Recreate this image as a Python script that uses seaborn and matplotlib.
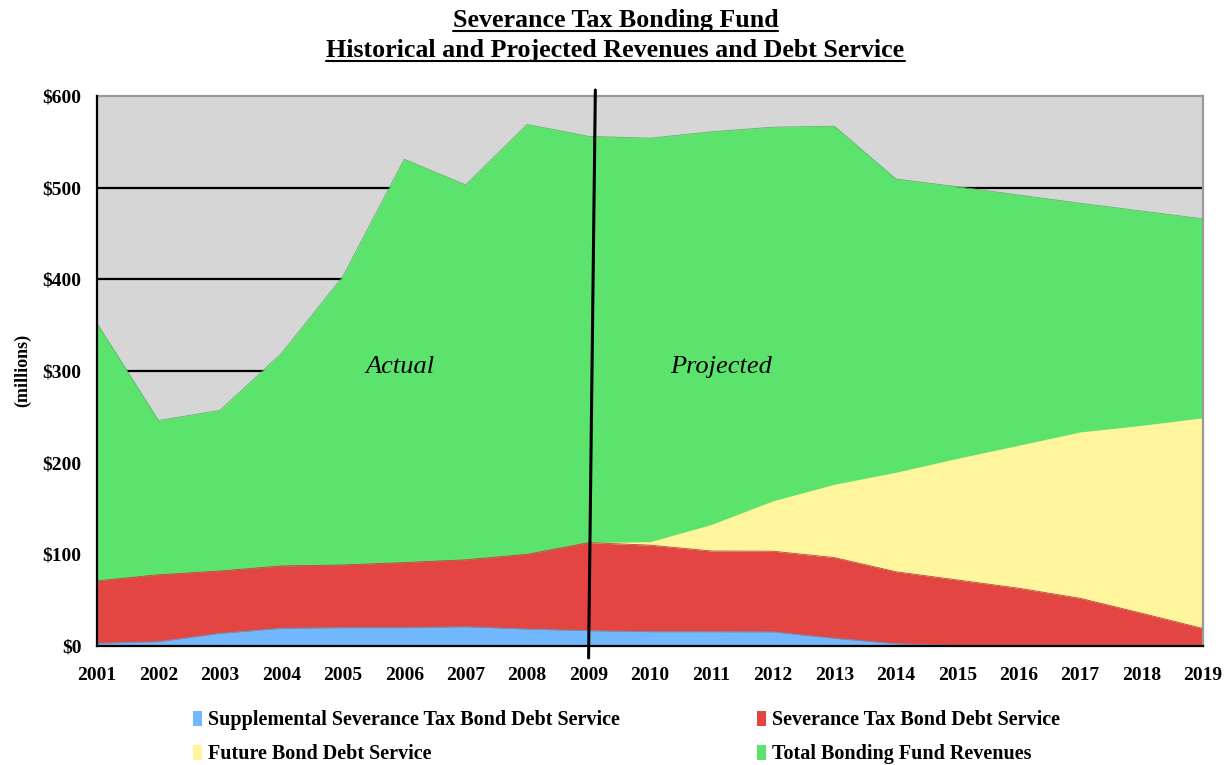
import pandas as pd
import matplotlib
matplotlib.use("Agg")
import matplotlib.pyplot as plt
import seaborn as sns
from matplotlib.patches import Patch
from matplotlib.lines import Line2D

# Severance Tax Bonding Fund, $ millions
years = list(range(2001, 2020))
supplemental = [3, 4.7, 13.8, 19.3, 20, 20, 21, 18.5, 16.7, 15.6, 15.6, 15.4, 8.4, 2.5, 0.5, 0, 0, 0, 0]
severance = [68, 73, 68, 68, 68.4, 71, 73, 81.5, 96, 94.4, 88, 88, 88, 78.5, 71.5, 63, 52, 35.7, 19]
future = [0, 0, 0, 0, 0, 0, 0, 0, 0, 3.8, 29, 55, 80, 108.5, 132.7, 156, 181.5, 205, 230]
revenues = [352, 246, 257, 319, 403, 531, 503, 569, 556, 554, 561, 566, 567, 509.5, 501, 492, 483, 474.5, 466]

labels = ["Supplemental Severance Tax Bond Debt Service", "Severance Tax Bond Debt Service",
          "Future Bond Debt Service", "Total Bonding Fund Revenues"]
y_ticks = [0, 100, 200, 300, 400, 500, 600]
split_year = 2009

blue, red, yellow, green = "#72B8FF", "#E34542", "#FFF59C", "#5CE36E"

df = pd.DataFrame({"year": years, "supplemental": supplemental, "severance": severance,
                   "future": future, "revenues": revenues})
df["top_blue"] = df["supplemental"]
df["top_red"] = df["top_blue"] + df["severance"]
df["top_yellow"] = df["top_red"] + df["future"]

sns.set_theme(style="white")
plt.rcParams["font.family"] = ["Liberation Serif", "DejaVu Serif"]
plt.rcParams["text.color"] = "black"
plt.rcParams["xtick.color"] = "black"
plt.rcParams["ytick.color"] = "black"
plt.rcParams["axes.labelcolor"] = "black"

fig = plt.figure(figsize=(12.31, 7.65), dpi=100)
ax = fig.add_axes([0.0788, 0.1556, 0.8985, 0.7189])
ax.set_facecolor("#D6D6D6")

for y in y_ticks[1:-1]:
    ax.axhline(y, color="black", lw=1.6, zorder=0.5)

ax.fill_between(df["year"], 0, df["revenues"], color=green, lw=0, zorder=1)
ax.stackplot(df["year"], df["supplemental"], df["severance"], df["future"],
             colors=[blue, red, yellow], lw=0, zorder=2)

# thin edges along the area boundaries
sns.lineplot(data=df, x="year", y="revenues", color="#58b865", lw=0.6, ax=ax, zorder=3)
sns.lineplot(data=df, x="year", y="top_red", color="#c9403c", lw=0.6, ax=ax, zorder=3)
sns.lineplot(data=df, x="year", y="top_blue", color="#6199d0", lw=0.6, ax=ax, zorder=3)

ax.set_xlim(years[0], years[-1])
ax.set_ylim(y_ticks[0], y_ticks[-1])
ax.set_xticks(years)
ax.set_xticklabels([str(y) for y in years])
ax.set_yticks(y_ticks)
ax.set_yticklabels([f"${v}" for v in y_ticks])
ax.set_xlabel("")
ax.set_ylabel("")
ax.tick_params(axis="both", direction="out", length=5, width=1.5, color="black",
               labelcolor="black", labelsize=14, pad=6)
for lab in ax.get_xticklabels() + ax.get_yticklabels():
    lab.set_fontweight("bold")
ax.tick_params(axis="x", pad=10)

for side in ["left", "bottom"]:
    ax.spines[side].set_color("black")
    ax.spines[side].set_linewidth(1.6)
for side in ["top", "right"]:
    ax.spines[side].set_color("#9a9a9a")
    ax.spines[side].set_linewidth(1.6)
    ax.spines[side].set_visible(True)
ax.spines["left"].set_zorder(5)
ax.spines["bottom"].set_zorder(5)

# divider between actual and projected
ax.add_line(Line2D([split_year, split_year + 0.11], [-13, 606.5], color="black", lw=2.2,
                   clip_on=False, zorder=6))
ax.text(2005.93, 304, "Actual", style="italic", fontsize=19, ha="center", va="center", zorder=7)
ax.text(2011.16, 304, "Projected", style="italic", fontsize=19, ha="center", va="center", zorder=7)

fig.text(0.018, 0.516, "(millions)", rotation=90, fontsize=13, fontweight="bold",
         ha="center", va="center")

# title with underline
t1 = fig.text(0.5, 1 - 20 / 765, "Severance Tax Bonding Fund", fontsize=18.7, fontweight="bold",
              ha="center", va="center")
t2 = fig.text(0.5, 1 - 50 / 765, "Historical and Projected Revenues and Debt Service",
              fontsize=18.7, fontweight="bold", ha="center", va="center")
fig.canvas.draw()
renderer = fig.canvas.get_renderer()
for t in (t1, t2):
    bb = t.get_window_extent(renderer).transformed(fig.transFigure.inverted())
    fig.add_artist(Line2D([bb.x0, bb.x1], [bb.y0 + 0.001, bb.y0 + 0.001], color="black", lw=1.5,
                          transform=fig.transFigure))

handles = [Patch(facecolor=blue, edgecolor="none"), Patch(facecolor=yellow, edgecolor="none"),
           Patch(facecolor=red, edgecolor="none"), Patch(facecolor=green, edgecolor="none")]
leg_labels = [labels[0], labels[2], labels[1], labels[3]]
leg = fig.legend(handles, leg_labels, loc="upper left", bbox_to_anchor=(0.150, 0.082), ncol=2,
                 frameon=False, fontsize=14.5, handlelength=0.45, handleheight=0.8,
                 handletextpad=0.3, columnspacing=6.8, labelspacing=0.7, borderaxespad=0)
for txt in leg.get_texts():
    txt.set_fontweight("bold")

fig.savefig("out.png", dpi=100)
